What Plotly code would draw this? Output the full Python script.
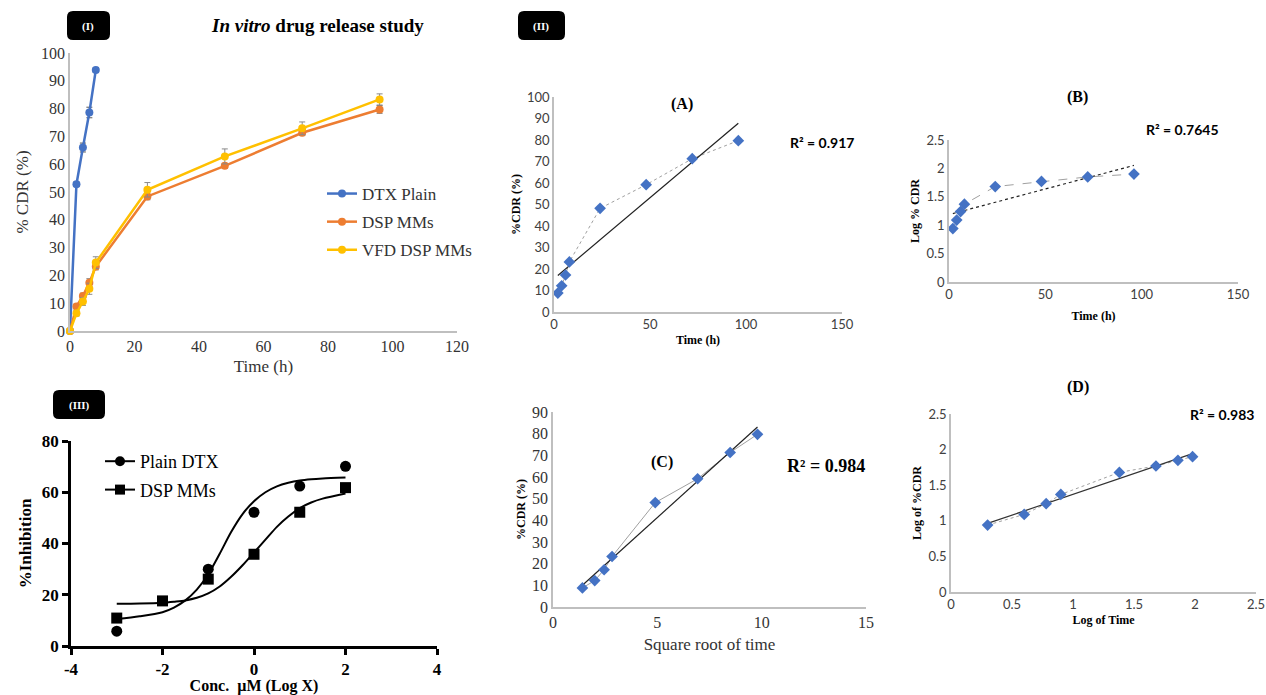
import numpy as np
import plotly.graph_objects as go

W, H = 1266, 695

# ---------------- Panel I : in vitro release ----------------
rel_time = [0, 2, 4, 6, 8, 24, 48, 72, 96]
dtx_time = [0, 2, 4, 6, 8]
dtx_plain = [0, 52.8, 66.0, 78.6, 93.9]
dtx_err = [0, 0.8, 1.6, 1.9, 0.8]
dsp_mms = [0, 8.8, 12.6, 17.4, 23.2, 48.4, 59.4, 71.3, 79.7]
dsp_err = [0, 0.8, 1.0, 1.4, 1.2, 1.2, 0.9, 1.0, 1.4]
vfd_dsp = [0, 6.4, 10.6, 15.2, 24.6, 50.8, 62.8, 72.9, 83.3]
vfd_err = [0, 1.0, 1.4, 2.0, 2.1, 2.6, 2.7, 2.3, 2.0]

# ---------------- Panel II : kinetic models ----------------
kin_time = [2, 4, 6, 8, 24, 48, 72, 96]
kin_cdr = [8.8, 12.2, 17.2, 23.3, 48.2, 59.2, 71.3, 79.7]
kin_log_cdr = [0.94, 1.09, 1.24, 1.37, 1.68, 1.77, 1.85, 1.90]
kin_sqrt_t = [1.41, 2.00, 2.45, 2.83, 4.90, 6.93, 8.49, 9.80]
kin_log_t = [0.30, 0.60, 0.78, 0.90, 1.38, 1.68, 1.86, 1.98]
r2_labels = ["R² = 0.917", "R² = 0.7645", "R² = 0.984", "R² = 0.983"]

# ---------------- Panel III : cytotoxicity ----------------
dtx_conc = [-3, -1, 0, 1, 2]
dtx_inhib = [5.8, 30.0, 52.2, 62.4, 70.1]
dsp_conc = [-3, -2, -1, 0, 1, 2]
dsp_inhib = [10.9, 17.6, 26.1, 35.8, 52.2, 61.8]
fit_x = [-3, -2.5, -2, -1.75, -1.5, -1.25, -1, -0.75, -0.5, -0.25, 0, 0.25, 0.5, 0.75, 1, 1.25, 1.5, 2]
dtx_fit = [10.5, 11.6, 13.2, 15.0, 17.8, 22.0, 28.0, 36.0, 44.5, 51.5, 56.5, 60.0, 62.3, 63.7, 64.6, 65.1, 65.4, 65.8]
dsp_fit = [16.5, 16.6, 16.9, 17.3, 17.8, 18.8, 20.5, 23.2, 27.0, 31.5, 36.5, 41.5, 46.5, 50.5, 53.8, 56.0, 57.5, 59.5]

SERIF = "Liberation Serif"
SANS = "Lato"
BLUE, ORANGE, GOLD = "#4472C4", "#ED7D31", "#FFC000"
DIAM = "#4472C4"


def dx(a, b):
    return [a / W, b / W]


def dy(top, bottom):
    return [1 - bottom / H, 1 - top / H]


fig = go.Figure()

# ---- Panel I traces
fig.add_trace(go.Scatter(x=dtx_time, y=dtx_plain, name="DTX Plain", mode="lines+markers", legendgroup="a",
                         line=dict(color=BLUE, width=2.5), marker=dict(size=8, color=BLUE),
                         error_y=dict(type="data", array=dtx_err, color="#5a5a5a", thickness=1, width=3),
                         xaxis="x", yaxis="y", cliponaxis=False, legend="legend"))
fig.add_trace(go.Scatter(x=rel_time, y=dsp_mms, name="DSP MMs", mode="lines+markers", legendgroup="b",
                         line=dict(color=ORANGE, width=2.5), marker=dict(size=8, color=ORANGE),
                         error_y=dict(type="data", array=dsp_err, color="#7a7a7a", thickness=1, width=3),
                         xaxis="x", yaxis="y", cliponaxis=False, legend="legend"))
fig.add_trace(go.Scatter(x=rel_time, y=vfd_dsp, name="VFD DSP MMs", mode="lines+markers", legendgroup="c",
                         line=dict(color=GOLD, width=2.5), marker=dict(size=8, color=GOLD),
                         error_y=dict(type="data", array=vfd_err, color="#8a8a8a", thickness=1, width=3),
                         xaxis="x", yaxis="y", cliponaxis=False, legend="legend"))

# ---- Panel III traces
fig.add_trace(go.Scatter(x=fit_x, y=dtx_fit, mode="lines", line=dict(color="black", width=2, shape="spline", smoothing=0.8),
                         showlegend=False, xaxis="x2", yaxis="y2", hoverinfo="skip"))
fig.add_trace(go.Scatter(x=fit_x, y=dsp_fit, mode="lines", line=dict(color="black", width=2, shape="spline", smoothing=0.8),
                         showlegend=False, xaxis="x2", yaxis="y2", hoverinfo="skip"))
fig.add_trace(go.Scatter(x=dtx_conc, y=dtx_inhib, mode="markers", marker=dict(symbol="circle", size=11, color="black"),
                         showlegend=False, xaxis="x2", yaxis="y2", cliponaxis=False))
fig.add_trace(go.Scatter(x=dsp_conc, y=dsp_inhib, mode="markers", marker=dict(symbol="square", size=11, color="black"),
                         showlegend=False, xaxis="x2", yaxis="y2", cliponaxis=False))
fig.add_trace(go.Scatter(x=[None], y=[None], name="Plain DTX", mode="lines+markers", legendgroup="p",
                         line=dict(color="black", width=2), marker=dict(symbol="circle", size=10, color="black"),
                         xaxis="x2", yaxis="y2", legend="legend2"))
fig.add_trace(go.Scatter(x=[None], y=[None], name="DSP MMs", mode="lines+markers", legendgroup="q",
                         line=dict(color="black", width=2), marker=dict(symbol="square", size=10, color="black"),
                         xaxis="x2", yaxis="y2", legend="legend2"))


def kinetic(xs, ys, xa, ya, conn_dash, trend_dash, trend_color="#222222"):
    fig.add_trace(go.Scatter(x=xs, y=ys, mode="lines", line=dict(color="#a0a0a0", width=1, dash=conn_dash),
                             showlegend=False, xaxis=xa, yaxis=ya))
    k, b = np.polyfit(xs, ys, 1)
    tx = [min(xs), max(xs)]
    fig.add_trace(go.Scatter(x=tx, y=[k * v + b for v in tx], mode="lines",
                             line=dict(color=trend_color, width=1.2, dash=trend_dash),
                             showlegend=False, xaxis=xa, yaxis=ya))
    fig.add_trace(go.Scatter(x=xs, y=ys, mode="markers", marker=dict(symbol="diamond", size=9, color=DIAM),
                             showlegend=False, xaxis=xa, yaxis=ya, cliponaxis=False))


kinetic(kin_time, kin_cdr, "x3", "y3", "dot", "solid")
kinetic(kin_time, kin_log_cdr, "x4", "y4", "dash", "dot")
kinetic(kin_sqrt_t, kin_cdr, "x5", "y5", "solid", "solid")
kinetic(kin_log_t, kin_log_cdr, "x6", "y6", "dot", "solid", "#333333")

excel_tick = dict(family=SANS, size=13, color="#404040")
bold_small = dict(family=SERIF, size=12, color="black", weight="bold")


def excel_axis(domain, anchor, rng, dtick, title, tfont=excel_tick, titlefont=bold_small, standoff=4):
    return dict(domain=domain, anchor=anchor, range=rng, dtick=dtick, tick0=0, showgrid=False, zeroline=False,
                showline=True, linecolor="#bfbfbf", linewidth=1.5, ticks="", tickfont=tfont, automargin=False,
                title=dict(text=title, font=titlefont, standoff=standoff), fixedrange=True)


layout = dict(
    width=W, height=H, margin=dict(l=0, r=0, t=0, b=0, pad=0, autoexpand=False),
    plot_bgcolor="white", paper_bgcolor="white",
    showlegend=True,
    # Panel I
    xaxis=excel_axis(dx(70, 457), "y", [0, 120], 20, "Time (h)",
                     tfont=dict(family=SERIF, size=16, color="#333333"),
                     titlefont=dict(family=SERIF, size=17, color="#333333"), standoff=6),
    yaxis=excel_axis(dy(53, 331), "x", [0, 100], 10, "% CDR (%)",
                     tfont=dict(family=SERIF, size=16, color="#333333"),
                     titlefont=dict(family=SERIF, size=17, color="#333333"), standoff=8),
    # Panel III
    xaxis2=dict(domain=dx(71, 437), anchor="y2", range=[-4, 4], tickvals=[-4, -2, 0, 2, 4],
                ticktext=["-4", "-2", "0", "2", "4"], showgrid=False, zeroline=False, automargin=False,
                showline=True, linecolor="black", linewidth=2.5, ticks="outside", ticklen=6, tickwidth=2.5,
                tickcolor="black", tickfont=dict(family=SERIF, size=17, color="black", weight="bold"),
                title=dict(text="Conc.  µM (Log X)", font=dict(family=SERIF, size=16, color="black", weight="bold"),
                           standoff=4), fixedrange=True),
    yaxis2=dict(domain=dy(441, 646), anchor="x2", range=[0, 80], dtick=20, showgrid=False, zeroline=False,
                automargin=False,
                showline=True, linecolor="black", linewidth=2.5, ticks="outside", ticklen=6, tickwidth=2.5,
                tickcolor="black", tickfont=dict(family=SERIF, size=17, color="black", weight="bold"),
                title=dict(text="%Inhibition", font=dict(family=SERIF, size=17, color="black", weight="bold"),
                           standoff=6), fixedrange=True),
    # Panel A
    xaxis3=excel_axis(dx(554, 842), "y3", [0, 150], 50, "Time (h)"),
    yaxis3=excel_axis(dy(97, 312), "x3", [0, 100], 10, "%CDR (%)"),
    # Panel B
    xaxis4=excel_axis(dx(949, 1238), "y4", [0, 150], 50, "Time (h)", standoff=10),
    yaxis4=excel_axis(dy(140, 282), "x4", [0, 2.5], 0.5, "Log % CDR"),
    # Panel C
    xaxis5=excel_axis(dx(553, 866), "y5", [0, 15], 5, "Square root of time",
                      tfont=dict(family=SERIF, size=16, color="#333333"),
                      titlefont=dict(family=SERIF, size=17, color="#333333"), standoff=8),
    yaxis5=excel_axis(dy(412, 607), "x5", [0, 90], 10, "%CDR (%)",
                      tfont=dict(family=SERIF, size=16, color="#333333")),
    # Panel D
    xaxis6=excel_axis(dx(951, 1256), "y6", [0, 2.5], 0.5, "Log of Time"),
    yaxis6=excel_axis(dy(414, 592), "x6", [0, 2.5], 0.5, "Log of %CDR"),
    legend=dict(x=322 / W, y=1 - 176 / H, xanchor="left", yanchor="top", bgcolor="rgba(0,0,0,0)",
                font=dict(family=SERIF, size=17, color="#333333"), itemwidth=30, tracegroupgap=3),
    legend2=dict(x=100 / W, y=1 - 443 / H, xanchor="left", yanchor="top", bgcolor="rgba(0,0,0,0)",
                 font=dict(family=SERIF, size=18, color="black"), itemwidth=30, tracegroupgap=2),
)
fig.update_layout(**layout)


def rbox(x0, y0, x1, y1, r=6):
    X = lambda v: v / W
    Y = lambda v: 1 - v / H
    p = (f"M {X(x0 + r)},{Y(y0)} L {X(x1 - r)},{Y(y0)} Q {X(x1)},{Y(y0)} {X(x1)},{Y(y0 + r)} "
         f"L {X(x1)},{Y(y1 - r)} Q {X(x1)},{Y(y1)} {X(x1 - r)},{Y(y1)} "
         f"L {X(x0 + r)},{Y(y1)} Q {X(x0)},{Y(y1)} {X(x0)},{Y(y1 - r)} "
         f"L {X(x0)},{Y(y0 + r)} Q {X(x0)},{Y(y0)} {X(x0 + r)},{Y(y0)} Z")
    return dict(type="path", path=p, xref="paper", yref="paper", fillcolor="black", line=dict(width=0))


fig.update_layout(shapes=[rbox(67, 11, 110, 40), rbox(518, 11, 565, 40), rbox(53, 390, 105, 419)])


def txt(x, y, s, size, family=SERIF, color="black", bold=True):
    fig.add_annotation(x=x / W, y=1 - y / H, xref="paper", yref="paper", text=s, showarrow=False,
                       font=dict(family=family, size=size, color=color, weight="bold" if bold else "normal"),
                       xanchor="center", yanchor="middle")


txt(88, 26, "(I)", 11, color="white")
txt(541, 26, "(II)", 11, color="white")
txt(79, 405, "(III)", 11, color="white")
txt(317, 25, "<i>In vitro</i> drug release study", 19)
txt(682, 104, "(A)", 16)
txt(1077, 97, "(B)", 16)
txt(662, 462, "(C)", 16)
txt(1078, 387, "(D)", 16)
txt(822, 142, r2_labels[0], 14, family=SANS)
txt(1182, 130, r2_labels[1], 14, family=SANS)
txt(826, 466, r2_labels[2], 18)
txt(1222, 415, r2_labels[3], 14, family=SANS)

fig.write_html("out.html")
